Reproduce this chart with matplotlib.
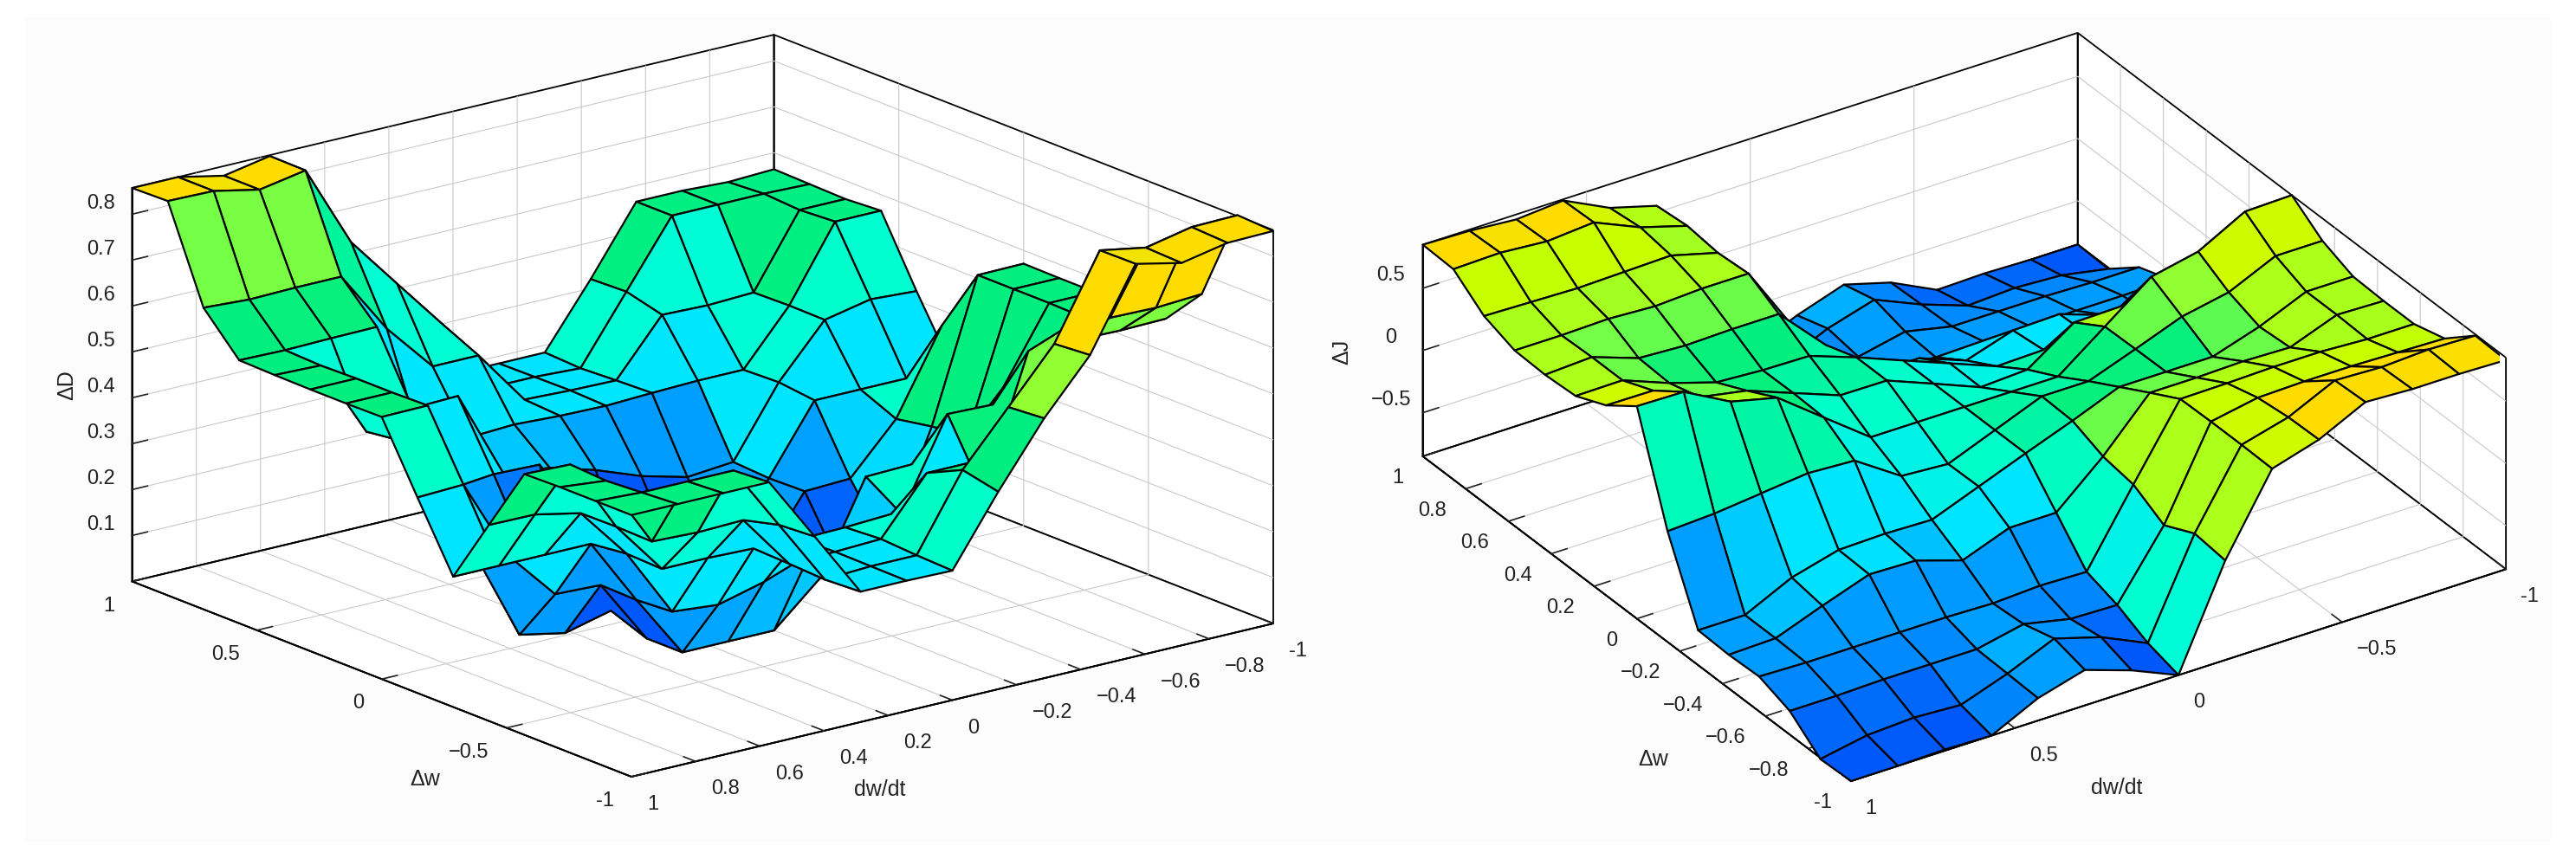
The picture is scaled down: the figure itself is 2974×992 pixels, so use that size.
#
# Two fuzzy control surfaces, dD and dJ over dw/dt and dw.
#

import numpy as np
import matplotlib
matplotlib.use('Agg')
import matplotlib.pyplot as plt
from matplotlib.colors import LinearSegmentedColormap, Normalize
from matplotlib.patches import Rectangle
from mpl_toolkits.mplot3d import proj3d

# rows run from dw = 1 down to dw = -1, columns from dw/dt = 1 down to dw/dt = -1
delta_d = [
    [.857, .857, .836, .855, .68, .566, .43, .285, .284, .284, .42, .565, .565, .56, .564],
    [.859, .857, .836, .854, .674, .56, .447, .285, .285, .28, .423, .565, .565, .565, .562],
    [.657, .651, .653, .653, .516, .41, .41, .29, .286, .284, .403, .40, .404, .56, .56],
    [.573, .571, .573, .574, .29, .285, .29, .285, .283, .287, .29, .29, .406, .565, .565],
    [.571, .568, .40, .427, .43, .236, .226, .197, .16, .134, .143, .293, .405, .426, .42],
    [.57, .57, .41, .28, .29, .287, .14, 0, 0, 0, .138, .284, .284, .284, .284],
    [.57, .57, .277, .14, .14, .07, .07, 0, 0, 0, .14, .144, .25, .43, .426],
    [.571, .572, .23, .025, .005, .03, .05, 0, .05, .03, .005, .025, .264, .57, .571],
    [.426, .43, .25, .144, .14, 0, 0, 0, .07, .07, .14, .14, .277, .57, .57],
    [.284, .284, .284, .284, .138, 0, 0, 0, .09, .287, .29, .28, .41, .57, .57],
    [.427, .426, .405, .293, .143, .134, .16, .197, .226, .236, .43, .427, .40, .568, .571],
    [.568, .565, .406, .29, .29, .287, .283, .285, .29, .285, .29, .574, .573, .571, .573],
    [.57, .56, .404, .40, .403, .284, .286, .29, .41, .41, .516, .653, .653, .651, .657],
    [.57, .565, .565, .565, .423, .28, .285, .285, .447, .56, .674, .854, .836, .857, .859],
    [.57, .57, .57, .57, .428, .284, .284, .282, .43, .566, .68, .855, .833, .853, .855],
]
delta_j = [
    [.85, .84, .81, .84, .66, .555, -.05, -.85, -.69, -.565, -.67, -.85, -.84, -.85, -.85],
    [.84, .85, .82, .85, .69, .58, -.02, -.78, -.61, -.5, -.66, -.79, -.77, -.79, -.86],
    [.65, .64, .63, .64, .65, .55, -.12, -.66, -.65, -.57, -.65, -.65, -.65, -.66, -.66],
    [.56, .56, .57, .55, .57, .57, 0, -.58, -.57, -.59, -.58, -.58, -.58, -.58, -.57],
    [.55, .57, .44, .42, .43, .43, .06, -.29, -.29, -.43, -.31, -.3, -.43, -.57, -.58],
    [.566, .57, .426, .31, .287, .28, .147, 0, -.145, -.29, -.28, -.29, -.39, -.57, -.57],
    [.677, .674, .5, .43, .29, .15, .147, 0, -.15, -.13, .127, .135, .09, .03, .04],
    [.857, .85, .65, .56, .28, 0, 0, 0, 0, 0, .28, .56, .64, .84, .85],
    [.04, .06, .10, .14, .12, -.125, -.15, 0, .15, .15, .286, .426, .50, .67, .67],
    [-.57, -.57, -.39, -.29, -.28, -.29, -.145, 0, .14, .29, .29, .29, .41, .57, .57],
    [-.58, -.57, -.43, -.3, -.31, -.43, -.29, -.29, .04, .43, .43, .44, .43, .57, .56],
    [-.57, -.58, -.58, -.58, -.58, -.59, -.57, -.58, 0, .565, .57, .58, .58, .56, .56],
    [-.66, -.66, -.65, -.65, -.65, -.57, -.65, -.66, -.14, .57, .64, .65, .65, .64, .63],
    [-.86, -.79, -.77, -.79, -.66, -.5, -.61, -.78, -.02, .57, .67, .845, .83, .85, .84],
    [-.85, -.85, -.84, -.85, -.67, -.565, -.69, -.85, -.05, .565, .677, .858, .84, .84, .83],
]
dwdt_points = [1, .857, .714, .571, .429, .286, .143, 0, -.143, -.286, -.429, -.571, -.714, -.857, -1]
dw_points = [1, .857, .714, .571, .429, .286, .143, 0, -.143, -.286, -.429, -.571, -.714, -.857, -1]

left_xticks = [1, .8, .6, .4, .2, 0, -.2, -.4, -.6, -.8, -1]
left_xlabels = ['1', '0.8', '0.6', '0.4', '0.2', '0', '\u22120.2', '\u22120.4', '\u22120.6', '\u22120.8', '-1']
left_yticks = [1, .5, 0, -.5, -1]
left_ylabels = ['1', '0.5', '0', '\u22120.5', '-1']
left_zticks = [.1, .2, .3, .4, .5, .6, .7, .8]
left_zlabels = ['0.1', '0.2', '0.3', '0.4', '0.5', '0.6', '0.7', '0.8']

right_xticks = [1, .5, 0, -.5, -1]
right_xlabels = ['1', '0.5', '0', '\u22120.5', '-1']
right_yticks = [1, .8, .6, .4, .2, 0, -.2, -.4, -.6, -.8, -1]
right_ylabels = ['1', '0.8', '0.6', '0.4', '0.2', '0', '\u22120.2', '\u22120.4', '\u22120.6', '\u22120.8', '-1']
right_zticks = [-.5, 0, .5]
right_zlabels = ['\u22120.5', '0', '0.5']

surface_colors = [
    (0, '#0058fa'), (.16, '#009cff'), (.33, '#00e5ff'), (.49, '#00ffd0'),
    (.665, '#00ee80'), (.77, '#80ff40'), (.88, '#c8ff00'), (1, '#ffdc00'),
]

FIG_W, FIG_H = 2974, 992

plt.rcParams['font.family'] = ['Liberation Sans', 'DejaVu Sans']
plt.rcParams['grid.color'] = '#c9c9c9'
plt.rcParams['grid.linewidth'] = 0.8


def fit_box(ax, front, right):
    # move and scale the axes so two floor corners land on given pixels
    xlim, ylim, zlim = ax.get_xlim(), ax.get_ylim(), ax.get_zlim()
    target = np.array(right, float) - np.array(front, float)
    for _ in range(3):
        ax.apply_aspect()
        proj = ax.get_proj()
        pts = []
        for x in xlim:
            px, py, _z = proj3d.proj_transform(x, ylim[0], zlim[0], proj)
            pts.append(ax.transData.transform((px, py)))
        cur = pts[1] - pts[0]
        scale = np.linalg.norm(target) / np.linalg.norm(cur)
        pos = ax.get_position()
        side = pos.width * FIG_W * scale
        ax.set_position([pos.x0, pos.y0, side / FIG_W, side / FIG_H])
        ax.apply_aspect()
        proj = ax.get_proj()
        px, py, _z = proj3d.proj_transform(xlim[0], ylim[0], zlim[0], proj)
        now = ax.transData.transform((px, py))
        pos = ax.get_position()
        ax.set_position([
            pos.x0 + (front[0] - now[0]) / FIG_W,
            pos.y0 + (front[1] - now[1]) / FIG_H,
            pos.width, pos.height,
        ])


def edge_grid(axis, ticks, edge_values):
    # a grid line at the end of an axis lies on the box edge, keep that one black
    on_edge = [t in edge_values for t in ticks]
    axis._axinfo['grid']['color'] = ['black' if e else '#c9c9c9' for e in on_edge]
    axis._axinfo['grid']['linewidth'] = [1.3 if e else 0.8 for e in on_edge]


def draw_panel(fig, values, zlim, aspect, view, ticks, front, right, pads):
    ax = fig.add_axes([0.1, 0.1, 1000 / FIG_W, 1000 / FIG_H], projection='3d', proj_type='ortho')
    ax.patch.set_visible(False)
    x, y = np.meshgrid(dwdt_points, dw_points)
    ax.set_xlim(1, -1)
    ax.set_ylim(-1, 1)
    ax.set_zlim(*zlim)
    ax.set_box_aspect(aspect)
    ax.view_init(elev=view[0], azim=view[1])
    z = np.array(values)
    # each face takes the colour of its low dw, low dw/dt corner
    cmap = LinearSegmentedColormap.from_list('surface', surface_colors)
    faces = cmap(Normalize(*zlim)(z[1:, 1:]))
    ax.plot_surface(
        x, y, z, rstride=1, cstride=1, facecolors=faces,
        edgecolor='black', linewidth=1.6, shade=False, antialiased=True,
    )
    xt, xl, yt, yl, zt, zl = ticks
    ax.set_xticks(xt, xl)
    ax.set_yticks(yt, yl)
    ax.set_zticks(zt, zl)
    for axis, pad in zip((ax.xaxis, ax.yaxis, ax.zaxis), pads):
        axis.set_pane_color('white')
        axis.pane.set_edgecolor('black')
        axis.pane.set_linewidth(1.3)
        axis.line.set_color('black')
        axis.line.set_linewidth(1.3)
        axis._axinfo['tick']['inward_factor'] = 0
        axis._axinfo['tick']['outward_factor'] = 0.3
        axis._axinfo['tick']['linewidth'] = {True: 1.2, False: 1.0}
        axis.set_tick_params(pad=pad, labelsize=17, colors='#222222')
    edge_grid(ax.xaxis, xt, (1, -1))
    edge_grid(ax.yaxis, yt, (1, -1))
    for t in ax.xaxis.get_major_ticks():
        t.label1.set_ha('left')
    for t in ax.yaxis.get_major_ticks():
        t.label1.set_ha('right')
    for t in ax.zaxis.get_major_ticks():
        t.label1.set_va('bottom')
    ax.zaxis.set_ticks_position('upper')
    fit_box(ax, front, right)
    return ax


def main():
    fig = plt.figure(figsize=(FIG_W / 100, FIG_H / 100), dpi=100, facecolor='white')
    fig.add_artist(Rectangle(
        (29 / FIG_W, 20 / FIG_H), 2916 / FIG_W, 952 / FIG_H,
        transform=fig.transFigure, facecolor='#fcfcfc', edgecolor='none', zorder=-1,
    ))

    draw_panel(
        fig, delta_d, (0, .857), (940, 936, 477), (17.8, 232),
        (left_xticks, left_xlabels, left_yticks, left_ylabels, left_zticks, left_zlabels),
        (729, FIG_H - 897), (1470, FIG_H - 720), (8, 6, 6),
    )
    draw_panel(
        fig, delta_j, (-.85, .85), (902, 903, 281), (29.7, 236.85),
        (right_xticks, right_xlabels, right_yticks, right_ylabels, right_zticks, right_zlabels),
        (2137, FIG_H - 902), (2893, FIG_H - 657), (8, 6, 6),
    )

    def label(px, py, text, **kw):
        fig.text(px / FIG_W, 1 - py / FIG_H, text, fontsize=18, ha='center', va='center', color='#222222', **kw)

    label(77, 445, '\u0394D', rotation=90)
    label(491, 900, '\u0394w')
    label(1016, 912, 'dw/dt')
    label(1549, 406, '\u0394J', rotation=90)
    label(1909, 877, '\u0394w')
    label(2444, 910, 'dw/dt')

    fig.savefig('out.png', dpi=100)


if __name__ == '__main__':
    main()
